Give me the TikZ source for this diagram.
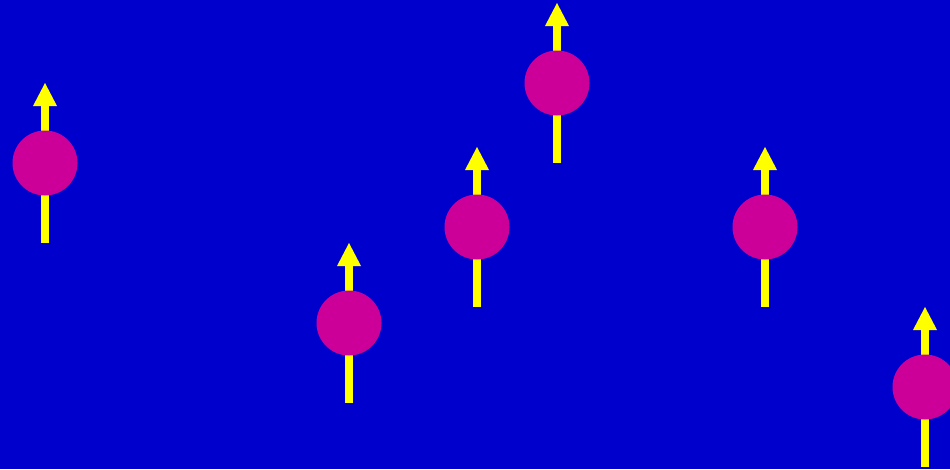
\documentclass[tikz,border=0pt]{standalone}
\definecolor{bgblue}{HTML}{0000CC}
\definecolor{ballmag}{HTML}{CC0099}
\definecolor{spinyel}{HTML}{FFFF00}
\tikzset{
  ball/.style={circle, fill=ballmag, draw=none, minimum size=65pt, inner sep=0pt},
  shaft/.style={fill=spinyel, draw=none},
}
\newcommand{\spinat}[3]{%
  % #1 name, #2 x, #3 y (circle centre)
  \fill[spinyel] ({#2-4},{#3+80}) rectangle ({#2+4},{#3-57});
  \fill[spinyel] ({#2-12},{#3-57}) -- ({#2+12},{#3-57}) -- (#2,{#3-80}) -- cycle;
  \node[ball] (#1) at (#2,#3) {};
}
\begin{document}
\begin{tikzpicture}[x=1pt,y=-1pt]
\fill[bgblue] (0,0) rectangle (950,469);
\useasboundingbox (0,0) rectangle (950,469);
\spinat{s1}{45}{163}
\spinat{s2}{557}{83}
\spinat{s3}{477}{227}
\spinat{s4}{349}{323}
\spinat{s5}{765}{227}
\spinat{s6}{925}{387}
\end{tikzpicture}
\end{document}
